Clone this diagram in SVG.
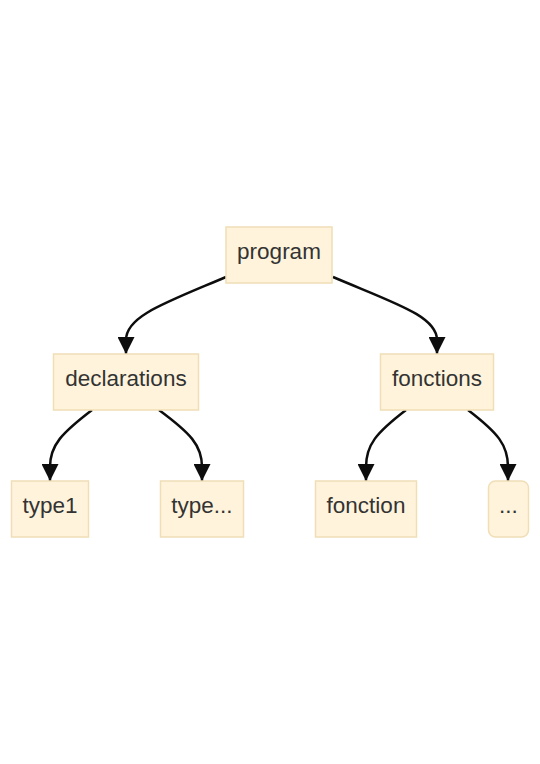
<svg xmlns="http://www.w3.org/2000/svg" width="540" height="764" viewBox="0 0 540 764">
<style>
.node rect{fill:#fff3dc;stroke:#f0deb6;stroke-width:1.5}
.node text{font-family:"Liberation Sans",Arial,sans-serif;font-size:22.5px;fill:#333;text-anchor:middle;dominant-baseline:central}
.edge{fill:none;stroke:#0d0d0d;stroke-width:2.5}
</style>
<defs>
<marker id="arrow" viewBox="0 0 10 10" refX="10" refY="5" markerUnits="userSpaceOnUse" markerWidth="17" markerHeight="17" orient="auto">
<path d="M0,0 L10,5 L0,10 z" fill="#0d0d0d"/>
</marker>
</defs>
<rect width="540" height="764" fill="#fff"/>
<g id="connectors">
<path class="edge" d="M226,277 C165,303 126,316 126,340 L126,354" marker-end="url(#arrow)"/>
<path class="edge" d="M333,277 C394,303 437,316 437,340 L437,354" marker-end="url(#arrow)"/>
<path class="edge" d="M92,410 C62,433 50,445 50,467 L50,481" marker-end="url(#arrow)"/>
<path class="edge" d="M159,410 C190,433 202,445 202,467 L202,481" marker-end="url(#arrow)"/>
<path class="edge" d="M406,410 C376,433 366,445 366,467 L366,481" marker-end="url(#arrow)"/>
<path class="edge" d="M468,410 C498,433 508,445 508,467 L508,481" marker-end="url(#arrow)"/>
</g>
<g id="program" class="node"><rect x="226" y="227" width="106" height="56"/><text x="279" y="251">program</text></g>
<g id="declarations" class="node"><rect x="53.5" y="354" width="145" height="56"/><text x="126" y="378">declarations</text></g>
<g id="fonctions" class="node"><rect x="380.5" y="354" width="113" height="56"/><text x="437" y="378">fonctions</text></g>
<g id="type1" class="node"><rect x="11.5" y="481" width="77" height="56"/><text x="50" y="505">type1</text></g>
<g id="type_etc" class="node"><rect x="160.5" y="481" width="83" height="56"/><text x="202" y="505">type...</text></g>
<g id="fonction" class="node"><rect x="315.5" y="481" width="101" height="56"/><text x="366" y="505">fonction</text></g>
<g id="etc" class="node"><rect x="488.5" y="481" width="40" height="56" rx="7" ry="7"/><text x="508.5" y="505">...</text></g>
</svg>
